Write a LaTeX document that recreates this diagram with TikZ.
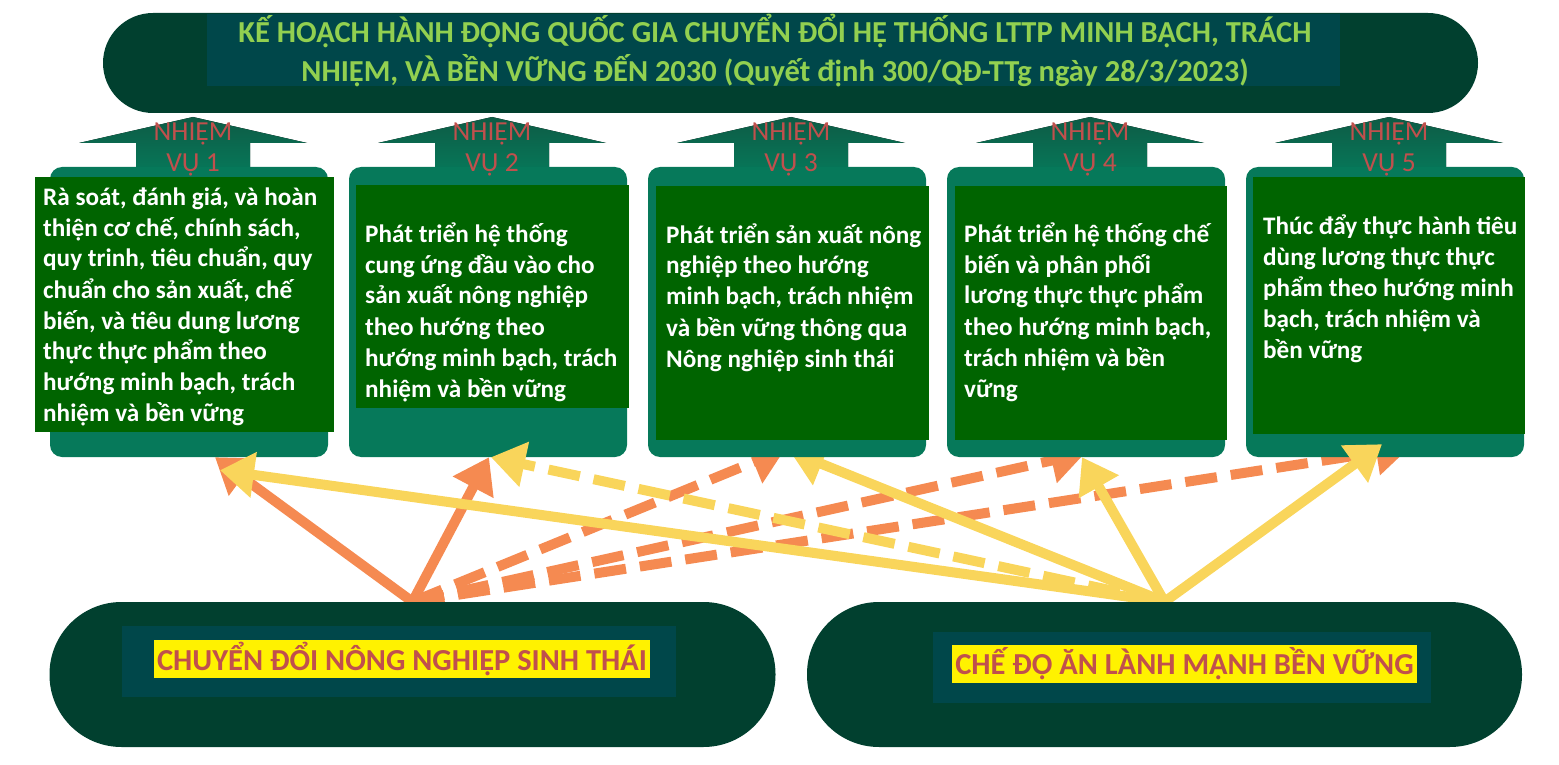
\documentclass[tikz,border=0pt]{standalone}
\usepackage{fontspec}
\setmainfont{Carlito}
\usetikzlibrary{positioning,calc,arrows.meta,shapes}
\definecolor{pine}{HTML}{01402F}
\definecolor{deepteal}{HTML}{00474A}
\definecolor{limegreen}{HTML}{92D050}
\definecolor{taskgreen}{HTML}{06795A}
\definecolor{arrowtop}{HTML}{0E5B45}
\definecolor{textgreen}{HTML}{006400}
\definecolor{brick}{HTML}{C0504D}
\definecolor{salmon}{HTML}{F58A51}
\definecolor{butter}{HTML}{F9D55B}
\pgfdeclarelayer{background}
\pgfdeclarelayer{foreground}
\pgfsetlayers{background,main,foreground}
\newcommand{\lines}[2][l]{\begin{tabular}[t]{@{}#1@{}}#2\end{tabular}}

\begin{document}
\begin{tikzpicture}[
      x=1pt, y=-1pt,
      plan/.style={
        rectangle,
        fill=pine,
        rounded corners=50,
        minimum width=1375,
        minimum height=100,
      },
      taskbox/.style={
        rectangle,
        fill=taskgreen,
        rounded corners=12,
        minimum width=278,
        minimum height=290,
      },
      tasktext/.style={
        text=white,
        inner sep=0,
        font=\fontsize{25.2}{31}\selectfont\bfseries,
        anchor=base west,
      },
      tasklabel/.style={
        text=brick,
        inner sep=0,
        font=\fontsize{27.5}{31}\selectfont,
        anchor=base,
      },
      goal/.style={
        rectangle,
        fill=pine,
        rounded corners=72,
        minimum height=145,
      },
      goalin/.style={
        rectangle,
        fill=deepteal,
        minimum height=71,
      },
      goaltext/.style={
        fill=yellow,
        text=brick,
        inner xsep=3,
        inner ysep=1,
        minimum height=38,
        font=\fontsize{30.5}{32}\selectfont\bfseries,
      },
      push/.style={
        line width=10pt,
        -{Triangle[length=34pt,width=44pt]},
      },
      gap/.style={
        dash pattern=on 32pt off 14pt,
      },
      ]
      \useasboundingbox (0,0) rectangle (1559,765);
      % top banner
      \node[plan] (plan) at (790.5,63) {};
      \node[fill=deepteal, inner sep=0, minimum width=1133, minimum height=72] (titlebg) at (773.5,50) {};
      \node[text=limegreen, inner sep=0, anchor=base, font=\fontsize{30.5}{37}\selectfont\bfseries] (title) at (775,43)
        {\lines[c]{KẾ HOẠCH HÀNH ĐỘNG QUỐC GIA CHUYỂN ĐỔI HỆ THỐNG LTTP MINH BẠCH, TRÁCH\\
        NHIỆM, VÀ BỀN VỮNG ĐẾN 2030 (Quyết định 300/QĐ-TTg ngày 28/3/2023)}};
      % five tasks
      \foreach \i/\c in {1/189,2/488,3/787,4/1086,5/1385} {
        \fill[top color=arrowtop, bottom color=taskgreen]
          (\c-53,175) -- (\c-53,143) -- (\c-110,143) -- (\c+4,117)
          -- (\c+118,143) -- (\c+61,143) -- (\c+61,175) -- cycle;
        \node[taskbox] (box\i) at (\c,312) {};
      }
      \foreach \i/\xa/\ya/\xb/\yb in {1/35/177/334/432, 2/356/185/629/408,
          3/656/186/929/440, 4/955/186/1227/440, 5/1253/177/1525/434} {
        \fill[textgreen] (\xa,\ya) rectangle (\xb,\yb);
      }
      \foreach \i/\c in {1/189,2/488,3/787,4/1086,5/1385} {
        \node[tasklabel] (lbl\i) at (\c+4,141) {\lines[c]{NHIỆM\\VỤ \i}};
      }
      \node[tasktext] (txt1) at (43,205) {\lines{Rà soát, đánh giá, và hoàn\\
        thiện cơ chế, chính sách,\\quy trinh, tiêu chuẩn, quy\\
        chuẩn cho sản xuất, chế\\biến, và tiêu dung lương\\
        thực thực phẩm theo\\hướng minh bạch, trách\\nhiệm và bền vững}};
      \node[tasktext] (txt2) at (365,242) {\lines{Phát triển hệ thống\\
        cung ứng đầu vào cho\\sản xuất nông nghiệp\\theo hướng theo\\
        hướng minh bạch, trách\\nhiệm và bền vững}};
      \node[tasktext] (txt3) at (666,243) {\lines{Phát triển sản xuất nông\\
        nghiệp theo hướng\\minh bạch, trách nhiệm\\và bền vững thông qua\\
        Nông nghiệp sinh thái}};
      \node[tasktext] (txt4) at (964,242) {\lines{Phát triển hệ thống chế\\
        biến và phân phối\\lương thực thực phẩm\\theo hướng minh bạch,\\
        trách nhiệm và bền\\vững}};
      \node[tasktext] (txt5) at (1263,234) {\lines{Thúc đẩy thực hành tiêu\\
        dùng lương thực thực\\phẩm theo hướng minh\\bạch, trách nhiệm và\\
        bền vững}};
      % two transitions
      \begin{pgfonlayer}{foreground}
        \node[goal, minimum width=726] (conv) at (412.5,674.5) {};
        \node[goalin, minimum width=554] (convin) at (399,661.5) {};
        \node[goaltext] (convtxt) at (402,658.5) {CHUYỂN ĐỔI NÔNG NGHIỆP SINH THÁI};
        \node[goal, minimum width=715] (diet) at (1164.5,674.5) {};
        \node[goalin, minimum width=498] (dietin) at (1182,667.5) {};
        \node[goaltext] (diettxt) at (1184.5,664) {CHẾ ĐỘ ĂN LÀNH MẠNH BỀN VỮNG};
      \end{pgfonlayer}
      % links
      \begin{pgfonlayer}{background}
        \draw[push, salmon] (conv.north) -- ($(box1.south)+(26,0)$);
        \draw[push, salmon] (conv.north) -- ($(box2.south)+(1,0)$);
        \draw[push, salmon, gap] (conv.north) -- ($(box3.south)+(-2,-8)$);
        \draw[push, salmon, gap] (conv.north) -- ($(box4.south)+(-1,-4)$);
        \draw[push, salmon, gap] (conv.north) -- ($(box5.south)+(25,-10)$);
        \draw[push, butter] (diet.north) -- ($(box3.south)+(3,-6)$);
      \end{pgfonlayer}
      \draw[push, butter] (diet.north) -- ($(box1.south)+(31,13)$);
      \draw[push, butter, gap] (diet.north) -- ($(box2.south)+(3,0)$);
      \draw[push, butter] (diet.north) -- ($(box4.south)+(-4,0)$);
      \draw[push, butter] (diet.north) -- ($(box5.south)+(-3,-13)$);
    \end{tikzpicture}
\end{document}
